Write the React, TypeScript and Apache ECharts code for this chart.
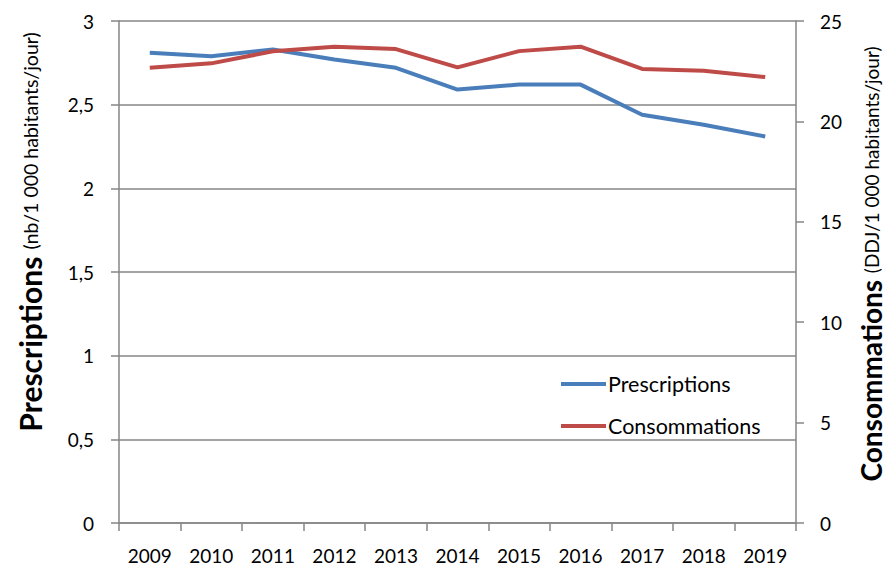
import React, { useEffect, useRef } from "react";
import * as echarts from "echarts";

const years = ["2009", "2010", "2011", "2012", "2013", "2014", "2015", "2016", "2017", "2018", "2019"];
const prescriptions = [2.81, 2.79, 2.83, 2.77, 2.72, 2.59, 2.62, 2.62, 2.44, 2.38, 2.31];
const consommations = [22.67, 22.89, 23.49, 23.72, 23.6, 22.69, 23.5, 23.72, 22.61, 22.52, 22.21];
const leftTitleBold = "Prescriptions";
const leftTitleUnit = "(nb/1 000 habitants/jour)";
const rightTitleBold = "Consommations";
const rightTitleUnit = "(DDJ/1 000 habitants/jour)";

const FONT = "Lato, 'Open Sans', sans-serif";
const GREY = "#868686";
const BLUE = "#4A7EBB";
const RED = "#BE4B48";

export default function App() {
  const ref = useRef<HTMLDivElement>(null);
  useEffect(() => {
    if (!ref.current) return;
    const chart = echarts.init(ref.current, undefined, { renderer: "svg" });
    const richLeft = {
      b: { fontFamily: FONT, fontSize: 30, fontWeight: "bold", fill: "#000" },
      n: { fontFamily: FONT, fontSize: 19.5, fill: "#000" },
    };
    const richRight = {
      b: { fontFamily: FONT, fontSize: 28, fontWeight: "bold", fill: "#000" },
      n: { fontFamily: FONT, fontSize: 19, fill: "#000" },
    };
    chart.setOption({
      animation: false,
      backgroundColor: "#fff",
      textStyle: { fontFamily: FONT },
      grid: { left: 119, right: 100, top: 21, bottom: 61, containLabel: false },
      legend: {
        orient: "vertical",
        left: 556,
        top: 368,
        itemWidth: 45,
        itemHeight: 4,
        itemGap: 20,
        icon: "rect",
        textStyle: { fontFamily: FONT, fontSize: 21.5, lineHeight: 22, color: "#000", padding: [0, 0, 0, -3] },
        data: [
          { name: "Prescriptions", itemStyle: { color: BLUE } },
          { name: "Consommations", itemStyle: { color: RED } },
        ],
      },
      xAxis: {
        type: "category",
        data: years,
        boundaryGap: true,
        axisLine: { lineStyle: { color: GREY, width: 1.5 } },
        axisTick: { show: true, length: 8, interval: 0, lineStyle: { color: GREY, width: 1.5 } },
        axisLabel: { fontFamily: FONT, fontSize: 19, color: "#000", margin: 23, interval: 0 },
      },
      yAxis: [
        {
          type: "value",
          min: 0,
          max: 3,
          interval: 0.5,
          position: "left",
          axisLine: { show: true, lineStyle: { color: GREY, width: 1.5 } },
          axisTick: { show: true, length: 8, lineStyle: { color: GREY, width: 1.5 } },
          axisLabel: {
            fontFamily: FONT,
            fontSize: 19,
            color: "#000",
            margin: 25,
            formatter: (v: number) => String(v).replace(".", ","),
          },
          splitLine: { show: true, lineStyle: { color: GREY, width: 1.5 } },
        },
        {
          type: "value",
          min: 0,
          max: 25,
          interval: 5,
          position: "right",
          axisLine: { show: true, lineStyle: { color: GREY, width: 1.5 } },
          axisTick: { show: true, length: 8, lineStyle: { color: GREY, width: 1.5 } },
          axisLabel: { fontFamily: FONT, fontSize: 19, color: "#000", margin: 24 },
          splitLine: { show: false },
        },
      ],
      graphic: [
        {
          type: "text",
          x: 30,
          y: 232,
          rotation: Math.PI / 2,
          style: {
            text: `{b|${leftTitleBold} }{n|${leftTitleUnit}}`,
            rich: richLeft,
            align: "center",
            verticalAlign: "middle",
          },
        },
        {
          type: "text",
          x: 871,
          y: 264,
          rotation: Math.PI / 2,
          style: {
            text: `{b|${rightTitleBold} }{n|${rightTitleUnit}}`,
            rich: richRight,
            align: "center",
            verticalAlign: "middle",
          },
        },
      ],
      series: [
        {
          name: "Prescriptions",
          type: "line",
          yAxisIndex: 0,
          data: prescriptions,
          showSymbol: false,
          symbol: "none",
          lineStyle: { color: BLUE, width: 4 },
          itemStyle: { color: BLUE },
        },
        {
          name: "Consommations",
          type: "line",
          yAxisIndex: 1,
          data: consommations,
          showSymbol: false,
          symbol: "none",
          lineStyle: { color: RED, width: 4 },
          itemStyle: { color: RED },
        },
      ],
    });
    return () => chart.dispose();
  }, []);
  return <div ref={ref} style={{ width: 896, height: 584, margin: -8 }} />;
}
